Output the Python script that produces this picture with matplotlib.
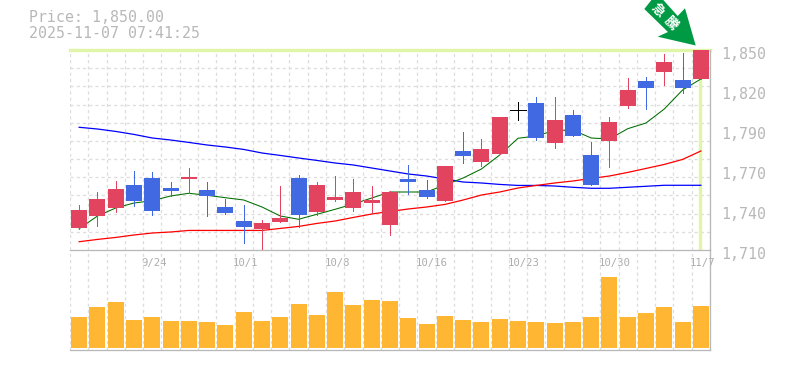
import matplotlib
matplotlib.use("Agg")
import matplotlib.pyplot as plt
from matplotlib.patches import Polygon
from matplotlib.transforms import ScaledTranslation, Affine2D
from matplotlib.ticker import FixedLocator

opens = [1725.4, 1733.8, 1739.4, 1755.5, 1760.4, 1753.4, 1759.7, 1752.0, 1740.1, 1730.3, 1724.7, 1729.6,
         1760.4, 1736.6, 1745.0, 1739.4, 1742.9, 1727.5, 1759.7, 1752.0, 1744.3, 1779.3, 1771.6, 1777.2,
         1808.0, 1812.9, 1784.9, 1804.5, 1776.5, 1786.3, 1810.8, 1828.3, 1834.6, 1829.0, 1829.7]
closes = [1738.0, 1745.7, 1752.7, 1744.3, 1737.3, 1751.3, 1761.1, 1747.8, 1735.9, 1726.1, 1728.9, 1732.4,
          1734.5, 1755.5, 1747.1, 1750.6, 1745.0, 1750.6, 1757.6, 1747.1, 1768.8, 1775.8, 1780.7, 1803.1,
          1808.0, 1788.4, 1801.0, 1789.8, 1755.5, 1799.6, 1822.0, 1823.4, 1841.6, 1823.4, 1850.0]
highs = [1741.5, 1750.6, 1758.3, 1765.3, 1764.6, 1757.6, 1767.4, 1757.6, 1745.7, 1741.5, 1731.0, 1754.8,
         1762.5, 1757.6, 1761.8, 1759.7, 1754.8, 1751.3, 1769.5, 1759.0, 1768.8, 1792.6, 1787.7, 1803.1,
         1813.6, 1817.1, 1817.1, 1808.0, 1785.6, 1803.1, 1830.4, 1831.1, 1847.2, 1847.9, 1850.0]
lows = [1724.7, 1726.8, 1736.6, 1740.8, 1734.5, 1747.8, 1749.7, 1733.8, 1735.2, 1714.9, 1709.3, 1729.6,
        1726.1, 1734.5, 1744.3, 1737.3, 1735.9, 1720.5, 1749.2, 1746.4, 1744.3, 1770.9, 1768.8, 1777.2,
        1801.0, 1787.0, 1781.4, 1789.8, 1755.5, 1768.1, 1809.4, 1808.7, 1825.5, 1819.9, 1829.7]
ma_short = [1724.9, 1733.8, 1739.4, 1742.9, 1744.5, 1747.8, 1749.7, 1748.3, 1746.6, 1745.0, 1740.1, 1733.8,
            1731.5, 1735.0, 1738.5, 1742.2, 1746.4, 1750.6, 1750.6, 1750.6, 1755.5, 1760.4, 1766.7, 1776.5,
            1788.2, 1789.8, 1793.7, 1794.0, 1788.4, 1787.7, 1794.9, 1798.9, 1808.7, 1822.0, 1829.7]
ma_mid = [1715.8, 1717.4, 1718.8, 1720.5, 1721.9, 1722.6, 1723.7, 1723.7, 1723.7, 1723.7, 1723.7, 1725.1,
          1726.5, 1728.6, 1730.3, 1732.8, 1735.2, 1737.0, 1738.7, 1740.1, 1741.9, 1745.0, 1748.5, 1750.6,
          1753.4, 1755.2, 1756.9, 1758.3, 1760.1, 1761.8, 1764.3, 1767.1, 1769.9, 1773.4, 1779.3]
ma_long = [1795.9, 1794.7, 1793.0, 1790.9, 1788.4, 1787.0, 1785.3, 1783.5, 1782.1, 1780.4, 1777.9, 1776.2,
           1774.4, 1772.7, 1770.9, 1769.5, 1767.4, 1765.3, 1763.2, 1761.8, 1759.7, 1757.6, 1756.9, 1755.9,
           1755.2, 1755.2, 1754.8, 1753.9, 1753.2, 1753.2, 1753.9, 1754.6, 1755.3, 1755.3, 1755.3]
volumes = [31, 41, 46, 28, 31, 27, 27, 26, 23, 36, 27, 31, 44, 33, 56, 43, 48, 47, 30, 24, 32, 28, 26, 29,
           27, 26, 25, 26, 31, 71, 31, 35, 41, 26, 42]
date_positions = [4, 9, 14, 19, 24, 29, 34]
date_labels = ["9/24", "10/1", "10/8", "10/16", "10/23", "10/30", "11/7"]
price_ticks = [1850, 1822, 1794, 1766, 1738, 1710]
price_labels = ["1,850", "1,820", "1,790", "1,770", "1,740", "1,710"]
title_lines = ["Price: 1,850.00", "2025-11-07 07:41:25"]
badge_chars = ["急", "騰"]

W, H = 785, 370
RED, BLUE, ORANGE = "#e2445f", "#4169e1", "#ffb733"
GRAY, GRID, BAND = "#b8b8b8", "#dddddd", "#e0f5a8"
px = 0.72
MONO = "DejaVu Sans Mono"

fig = plt.figure(figsize=(W / 100, H / 100), dpi=100)
ax = fig.add_axes([70 / W, 1 - 250 / H, 640 / W, 200 / H])
axv = fig.add_axes([70 / W, 1 - 350 / H, 640 / W, 100 / H])
axv.patch.set_visible(False)

xs = [i + 0.5 for i in range(len(opens))]
for a in (ax, axv):
    a.set_xlim(0, 35)
    a.xaxis.set_minor_locator(FixedLocator(range(0, 36)))
    a.grid(True, which="minor", axis="x", color=GRID, lw=1.3 * px, ls=(0, (2.4, 2.4)))
    a.set_axisbelow(True)
    a.spines["left"].set_visible(False)
    a.spines["top"].set_visible(False)
    a.spines["right"].set_color(GRAY)
    a.spines["bottom"].set_color(GRAY)
    a.spines["right"].set_linewidth(1.3 * px)
    a.spines["bottom"].set_linewidth(1.3 * px)
    a.tick_params(which="both", length=0)

ax.set_ylim(1710, 1850)
ax.yaxis.set_minor_locator(FixedLocator([1710 + k * 140 / 11 for k in range(12)]))
ax.grid(True, which="minor", axis="y", color=GRID, lw=1.3 * px, ls=(0, (2.4, 2.4)))

ax.axhline(1850, color=BAND, lw=3.4 * px, zorder=1.5, clip_on=False)
ax.axvline(34.45, color=BAND, lw=3.4 * px, zorder=1.5)

ax.plot(xs, ma_long, color="#0000ff", lw=1.25 * px, zorder=2)
ax.plot(xs, ma_mid, color="#ff0000", lw=1.25 * px, zorder=2)
ax.plot(xs, ma_short, color="#006e00", lw=1.05 * px, zorder=2)

for x, o, c, h, l in zip(xs, opens, closes, highs, lows):
    col = "black" if o == c else (RED if c > o else BLUE)
    ax.vlines(x, l, h, color=col, lw=1.0 * px, zorder=3, antialiased=False)
    if o == c:
        ax.hlines(c, x - 0.4375, x + 0.4375, color=col, lw=1.0 * px, zorder=3, antialiased=False)
    else:
        ax.bar(x, abs(c - o), bottom=min(o, c), width=0.875, color=col, lw=0, zorder=3)

ax.yaxis.tick_right()
ax.set_yticks(price_ticks)
ax.set_yticklabels(price_labels, fontfamily=MONO, fontsize=10.7, color=GRAY)
ax.tick_params(axis="y", which="major", length=0, pad=8)
down = ScaledTranslation(0, -3 / 100, fig.dpi_scale_trans)
for lab in ax.get_yticklabels():
    lab.set_transform(lab.get_transform() + down)

ax.set_xticks([p + 0.5 for p in date_positions])
ax.set_xticklabels(date_labels, fontfamily=MONO, fontsize=7.7, color="#adadad")
ax.tick_params(axis="x", which="major", length=0, pad=6)
shift = ScaledTranslation(-10.7 / 100, 0, fig.dpi_scale_trans)
for lab in ax.get_xticklabels():
    lab.set_ha("left")
    lab.set_transform(lab.get_transform() + shift)
    lab.set_zorder(10)

axv.set_ylim(-2, 98)
axv.bar(xs, volumes, width=0.875, color=ORANGE, lw=0, zorder=3)
axv.set_xticks([])
axv.set_yticks([])

to_fig = Affine2D().scale(1, -1).translate(0, H)
fig.add_artist(Polygon([(644.3, 9), (668, 32), (657.7, 36.7), (695.7, 45.5), (685, 8.3),
                        (677.7, 16), (657, -7)],
                       closed=True, facecolor="#009944", edgecolor="none", transform=to_fig))
for ch, (cx, cy) in zip(badge_chars, [(658, 10), (671, 23)]):
    fig.text(cx, H - cy, ch, transform=Affine2D(), family=["Noto Sans CJK JP", "DejaVu Sans"],
             fontsize=9.5, fontweight="bold", color="white", rotation=-45,
             ha="center", va="center", rotation_mode="anchor")

for txt, y in zip(title_lines, [18, 33]):
    fig.text(29 / W, 1 - y / H, txt, family=MONO, fontsize=10.7, color=GRAY, ha="left", va="center")

fig.savefig("out.png", dpi=100)
